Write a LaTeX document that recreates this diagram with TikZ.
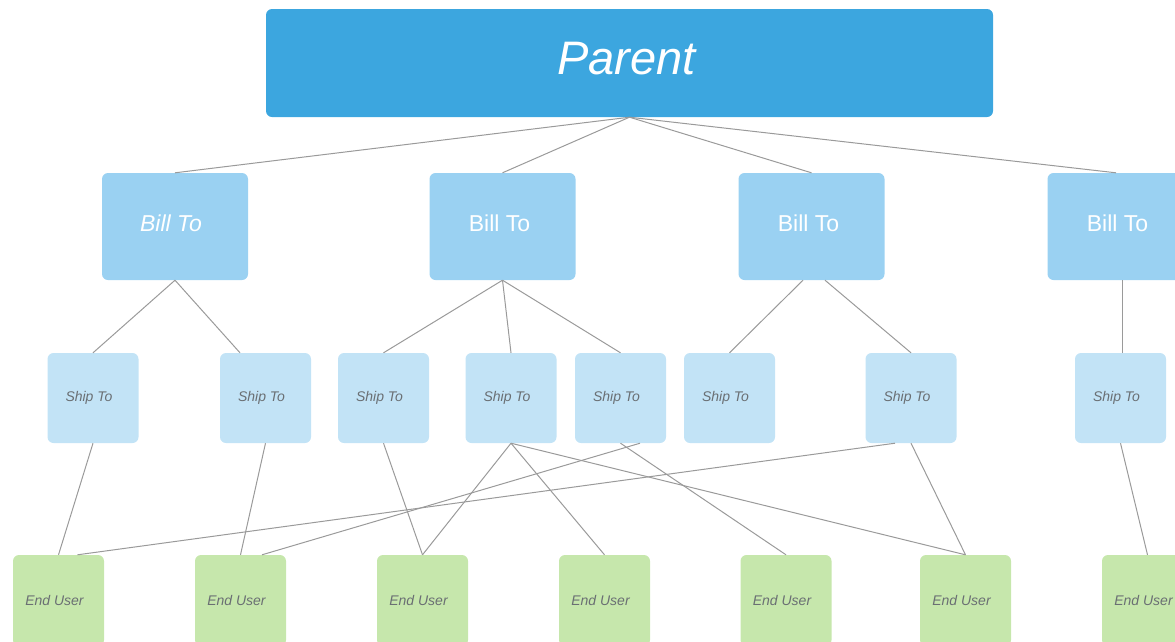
\documentclass[tikz,border=0pt]{standalone}
\usepackage{fontspec}
\setmainfont{Liberation Sans}
\definecolor{parentc}{HTML}{3CA6DF}
\definecolor{billc}{HTML}{9AD1F2}
\definecolor{shipc}{HTML}{C2E3F6}
\definecolor{userc}{HTML}{C6E7AC}
\definecolor{txtc}{HTML}{6A6F73}
\definecolor{linec}{HTML}{9A9A9A}
\begin{document}
\begin{tikzpicture}[x=1pt,y=1pt,
  box/.style={rectangle,rounded corners=6pt,inner sep=0pt,draw=none},
  parentbox/.style={box,fill=parentc,minimum width=727pt,minimum height=108pt,text=white,font=\fontsize{47}{50}\selectfont\itshape},
  billbox/.style={box,fill=billc,minimum width=146pt,minimum height=107pt,text=white,font=\fontsize{23}{26}\selectfont},
  shipbox/.style={box,fill=shipc,minimum width=91pt,minimum height=90pt,text=txtc,font=\fontsize{14}{16}\selectfont\itshape},
  userbox/.style={box,fill=userc,minimum width=91pt,minimum height=91pt,text=txtc,font=\fontsize{14}{16}\selectfont\itshape},
  conn/.style={draw=linec,line width=1pt}]
\useasboundingbox (0,0) rectangle (1175,-641);
% Parent
\node[parentbox] (P) at (629.5,-63) {\raisebox{9pt}{\hspace*{-6pt}Parent}};
% Bill To
\node[billbox] (B1) at (175,-226.5) {\raisebox{6pt}{\hspace*{-8pt}\itshape Bill To}};
\node[billbox] (B2) at (502.5,-226.5) {\raisebox{6pt}{\hspace*{-6pt}Bill To}};
\node[billbox] (B3) at (811.5,-226.5) {\raisebox{6pt}{\hspace*{-6pt}Bill To}};
\node[billbox] (B4) at (1120.5,-226.5) {\raisebox{6pt}{\hspace*{-6pt}Bill To}};
% Ship To
\node[shipbox] (S1) at (93,-398) {\raisebox{-2pt}{\hspace*{-8pt}Ship To}};
\node[shipbox] (S2) at (265.5,-398) {\raisebox{-2pt}{\hspace*{-8pt}Ship To}};
\node[shipbox] (S3) at (383.5,-398) {\raisebox{-2pt}{\hspace*{-8pt}Ship To}};
\node[shipbox] (S4) at (511,-398) {\raisebox{-2pt}{\hspace*{-8pt}Ship To}};
\node[shipbox] (S5) at (620.5,-398) {\raisebox{-2pt}{\hspace*{-8pt}Ship To}};
\node[shipbox] (S6) at (729.5,-398) {\raisebox{-2pt}{\hspace*{-8pt}Ship To}};
\node[shipbox] (S7) at (911,-398) {\raisebox{-2pt}{\hspace*{-8pt}Ship To}};
\node[shipbox] (S8) at (1120.5,-398) {\raisebox{-2pt}{\hspace*{-8pt}Ship To}};
% End User
\node[userbox] (U1) at (58.5,-600.5) {\hspace*{-8pt}End User};
\node[userbox] (U2) at (240.5,-600.5) {\hspace*{-8pt}End User};
\node[userbox] (U3) at (422.5,-600.5) {\hspace*{-8pt}End User};
\node[userbox] (U4) at (604.5,-600.5) {\hspace*{-8pt}End User};
\node[userbox] (U5) at (786,-600.5) {\hspace*{-8pt}End User};
\node[userbox] (U6) at (965.5,-600.5) {\hspace*{-8pt}End User};
\node[userbox] (U7) at (1147.5,-600.5) {\hspace*{-8pt}End User};
% Parent -> Bill To
\draw[conn] (P.south) -- (B1.north);
\draw[conn] (P.south) -- (B2.north);
\draw[conn] (P.south) -- (B3.north);
\draw[conn] (P.south) -- ([xshift=-4.5pt]B4.north);
% Bill To -> Ship To
\draw[conn] (B1.south) -- (S1.north);
\draw[conn] (B1.south) -- ([xshift=-25.5pt]S2.north);
\draw[conn] (B2.south) -- (S3.north);
\draw[conn] (B2.south) -- (S4.north);
\draw[conn] (B2.south) -- (S5.north);
\draw[conn] ([xshift=-8.5pt]B3.south) -- (S6.north);
\draw[conn] ([xshift=13.5pt]B3.south) -- (S7.north);
\draw[conn] ([xshift=2pt]B4.south) -- ([xshift=2pt]S8.north);
% Ship To -> End User
\draw[conn] (S1.south) -- (U1.north);
\draw[conn] (S2.south) -- (U2.north);
\draw[conn] (S3.south) -- (U3.north);
\draw[conn] (S4.south) -- (U3.north);
\draw[conn] (S4.south) -- (U4.north);
\draw[conn] (S4.south) -- (U6.north);
\draw[conn] ([xshift=19.5pt]S5.south) -- ([xshift=21.5pt]U2.north);
\draw[conn] (S5.south) -- (U5.north);
\draw[conn] ([xshift=-16pt]S7.south) -- ([xshift=19pt]U1.north);
\draw[conn] (S7.south) -- (U6.north);
\draw[conn] (S8.south) -- (U7.north);
\end{tikzpicture}
\end{document}
